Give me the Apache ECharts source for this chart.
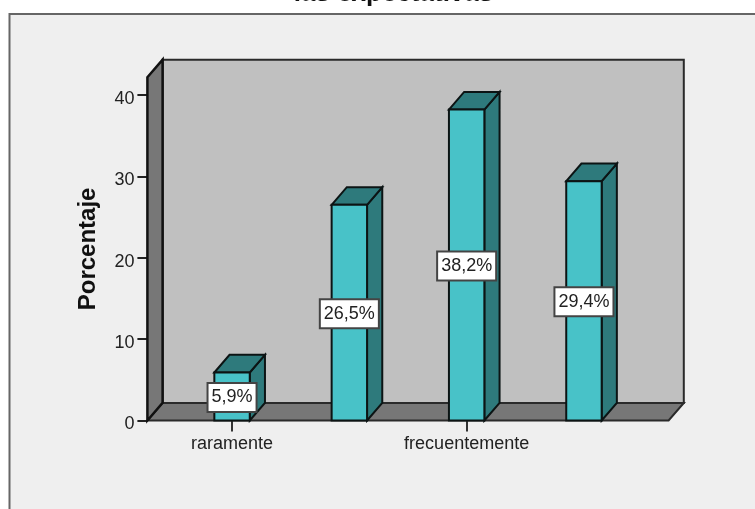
<!DOCTYPE html>
<html><head><meta charset="utf-8">
<style>html,body{margin:0;padding:0;background:#fff;overflow:hidden}#c{width:755px;height:509px}</style>
<script src="https://cdn.jsdelivr.net/npm/echarts@6/dist/echarts.min.js"></script>
</head><body><div id="c"></div>
<script>
const categories = ['raramente', '', 'frecuentemente', ''];
const values = [5.9, 26.5, 38.2, 29.4];
const valueLabels = ['5,9%', '26,5%', '38,2%', '29,4%'];
const yTicks = [0, 10, 20, 30, 40];
const titleText = 'las expectativas';
const yName = 'Porcentaje';
const axisTop = 42.16;
const DX = 15.2, DY = 17.6, PAD = 26;
const FONT = '"Liberation Sans", Arial, sans-serif';
const line = '#0c1414';

const chart = echarts.init(document.getElementById('c'), null, {renderer: 'canvas'});
function poly(points, fill, stroke, w) {
  return {type: 'polygon', shape: {points}, style: {fill, stroke: stroke || line, lineWidth: w || 2, lineJoin: 'miter'}};
}
function renderWalls(params, api) {
  const cs = params.coordSys;
  const l = cs.x - PAD, r = cs.x + cs.width + PAD;
  const b = api.coord([0, 0])[1], t = api.coord([0, axisTop])[1];
  return {type: 'group', children: [
    poly([[l + DX, t - DY], [r + DX, t - DY], [r + DX, b - DY], [l + DX, b - DY]], '#C0C0C0', '#2a2a2a', 2),
    poly([[l, b], [l + DX, b - DY], [r + DX, b - DY], [r, b]], '#777777', '#2a2a2a', 2),
    poly([[l, t], [l + DX, t - DY], [l + DX, b - DY], [l, b]], '#777777', '#111', 2.5)
  ]};
}
function renderBar(params, api) {
  const c = api.value(0), v = api.value(1);
  const p = api.coord([c, v]), b = api.coord([c, 0]);
  const w = api.size([1, 0])[0] * 0.302;
  const x0 = p[0] - w / 2, x1 = p[0] + w / 2, yt = p[1], yb = b[1];
  return {type: 'group', children: [
    poly([[x1, yt], [x1 + DX, yt - DY], [x1 + DX, yb - DY], [x1, yb]], '#2E7A7C'),
    poly([[x0, yt], [x0 + DX, yt - DY], [x1 + DX, yt - DY], [x1, yt]], '#2E7A7C'),
    poly([[x0, yt], [x1, yt], [x1, yb], [x0, yb]], '#48C2C8'),
    {type: 'text', x: p[0], y: (yt + yb) / 2 + 1, style: {
      text: valueLabels[params.dataIndex], font: '18px ' + FONT, fill: '#222',
      align: 'center', verticalAlign: 'middle',
      backgroundColor: '#fff', borderColor: '#444', borderWidth: 2, padding: [6, 3, 3, 3]
    }}
  ]};
}
chart.setOption({
  animation: false,
  backgroundColor: '#fff',
  title: {text: titleText, left: 388.5, textAlign: 'center', top: -24,
    textStyle: {fontFamily: FONT, fontWeight: 'bold', fontSize: 26, color: '#111'}},
  graphic: [{type: 'rect', silent: true, z: -10, shape: {x: 9.5, y: 14, width: 800, height: 600},
    style: {fill: '#EFEFEF', stroke: '#666', lineWidth: 2}}],
  grid: {left: 173.4, top: 77.3, width: 469.2, height: 343.2},
  xAxis: {type: 'category', data: categories, boundaryGap: true,
    axisLine: {show: false},
    axisTick: {show: true, alignWithLabel: true, interval: 1, length: 11, lineStyle: {color: '#333', width: 2}},
    axisLabel: {interval: 1, margin: 15, fontFamily: FONT, fontSize: 18, color: '#222'}},
  yAxis: {type: 'value', min: 0, max: axisTop, offset: PAD, interval: 10,
    name: yName, nameLocation: 'middle', nameGap: 47,
    nameTextStyle: {fontFamily: FONT, fontWeight: 'bold', fontSize: 24, color: '#111'},
    splitLine: {show: false}, axisLine: {show: false},
    axisTick: {show: true, length: 10, customValues: yTicks, lineStyle: {color: '#222', width: 2}},
    axisLabel: {margin: 13, customValues: yTicks, verticalAlign: 'top', lineHeight: 8, fontFamily: FONT, fontSize: 18, color: '#222'}},
  series: [
    {type: 'custom', z: 1, clip: false, silent: true, renderItem: renderWalls, data: [[0, 0]], encode: {x: 0, y: 1}},
    {type: 'custom', z: 2, clip: false, silent: true, renderItem: renderBar,
      data: values.map((v, i) => [i, v]), encode: {x: 0, y: 1}}
  ]
});
</script></body></html>
